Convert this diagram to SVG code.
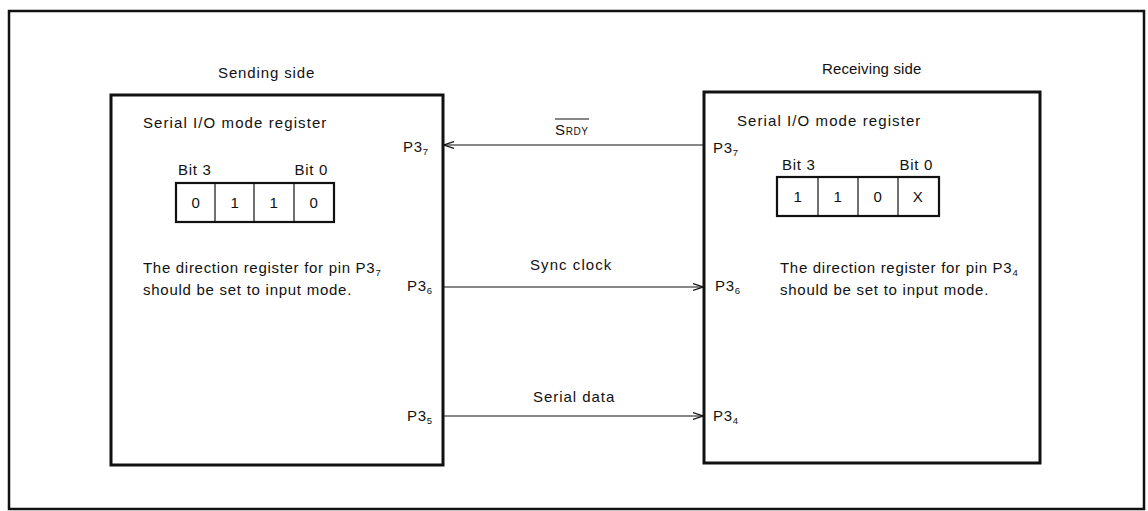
<svg xmlns="http://www.w3.org/2000/svg" width="1148" height="511" viewBox="0 0 1148 511">
<defs>
<style>
text{font-family:"Liberation Sans",Arial,sans-serif;font-size:15px;letter-spacing:0.7px;fill:#111}
.c{text-anchor:middle}
.box{fill:none;stroke:#111;stroke-width:3}
.reg{fill:none;stroke:#111;stroke-width:2.2}
.div{stroke:#111;stroke-width:1.2}
.wire{stroke:#111;stroke-width:1.2;fill:none}
.sub{font-size:9.5px;letter-spacing:0}
</style>
<marker id="ah" viewBox="0 0 10 10" refX="10" refY="5" markerWidth="10" markerHeight="10" markerUnits="userSpaceOnUse" orient="auto">
<path d="M0,1.5 L10,5 L0,8.5" fill="none" stroke="#111" stroke-width="1.2"/>
</marker>
</defs>
<rect width="1148" height="511" fill="#fff"/>
<rect x="9" y="11" width="1135" height="498" fill="none" stroke="#111" stroke-width="2.5"/>

<g id="sending">
<text x="218" y="78" textLength="97" lengthAdjust="spacing">Sending side</text>
<rect class="box" x="111" y="95" width="332" height="370"/>
<text x="143" y="128" textLength="184" lengthAdjust="spacing">Serial I/O mode register</text>
<text x="178" y="175">Bit 3</text>
<text x="328" y="175" text-anchor="end">Bit 0</text>
<rect class="reg" x="176" y="183" width="158" height="39"/>
<line class="div" x1="215" y1="183" x2="215" y2="222"/>
<line class="div" x1="254" y1="183" x2="254" y2="222"/>
<line class="div" x1="294" y1="183" x2="294" y2="222"/>
<text class="c" x="196" y="208">0</text>
<text class="c" x="235" y="208">1</text>
<text class="c" x="274" y="208">1</text>
<text class="c" x="314" y="208">0</text>
<text x="143" y="273">The direction register for pin P3<tspan class="sub" dy="3">7</tspan></text>
<text x="143" y="295" textLength="209" lengthAdjust="spacing">should be set to input mode.</text>
<text x="403" y="152">P3<tspan class="sub" dy="3">7</tspan></text>
<text x="407" y="291">P3<tspan class="sub" dy="3">6</tspan></text>
<text x="407" y="421">P3<tspan class="sub" dy="3">5</tspan></text>
</g>

<g id="receiving">
<text x="822" y="74" textLength="100" lengthAdjust="spacing">Receiving side</text>
<rect class="box" x="704" y="92" width="336" height="371"/>
<text x="737" y="126" textLength="184" lengthAdjust="spacing">Serial I/O mode register</text>
<text x="782" y="170">Bit 3</text>
<text x="933" y="170" text-anchor="end">Bit 0</text>
<rect class="reg" x="777" y="177" width="162" height="39"/>
<line class="div" x1="818" y1="177" x2="818" y2="216"/>
<line class="div" x1="858" y1="177" x2="858" y2="216"/>
<line class="div" x1="898" y1="177" x2="898" y2="216"/>
<text class="c" x="798" y="202">1</text>
<text class="c" x="838" y="202">1</text>
<text class="c" x="878" y="202">0</text>
<text class="c" x="918" y="202">X</text>
<text x="780" y="273">The direction register for pin P3<tspan class="sub" dy="3">4</tspan></text>
<text x="780" y="295" textLength="209" lengthAdjust="spacing">should be set to input mode.</text>
<text x="713" y="153">P3<tspan class="sub" dy="3">7</tspan></text>
<text x="715" y="291">P3<tspan class="sub" dy="3">6</tspan></text>
<text x="713" y="421">P3<tspan class="sub" dy="3">4</tspan></text>
</g>

<g id="connectors">
<line class="wire" x1="703" y1="145" x2="444" y2="145" marker-end="url(#ah)"/>
<line class="wire" x1="444" y1="287" x2="703" y2="287" marker-end="url(#ah)"/>
<line class="wire" x1="444" y1="416" x2="703" y2="416" marker-end="url(#ah)"/>
<text x="555" y="135">S<tspan font-size="10px" letter-spacing="0.5px">RDY</tspan></text>
<line x1="555" y1="119" x2="589" y2="119" stroke="#111" stroke-width="1"/>
<text x="530" y="270" textLength="82" lengthAdjust="spacing">Sync clock</text>
<text x="533" y="402" textLength="82" lengthAdjust="spacing">Serial data</text>
</g>
</svg>
